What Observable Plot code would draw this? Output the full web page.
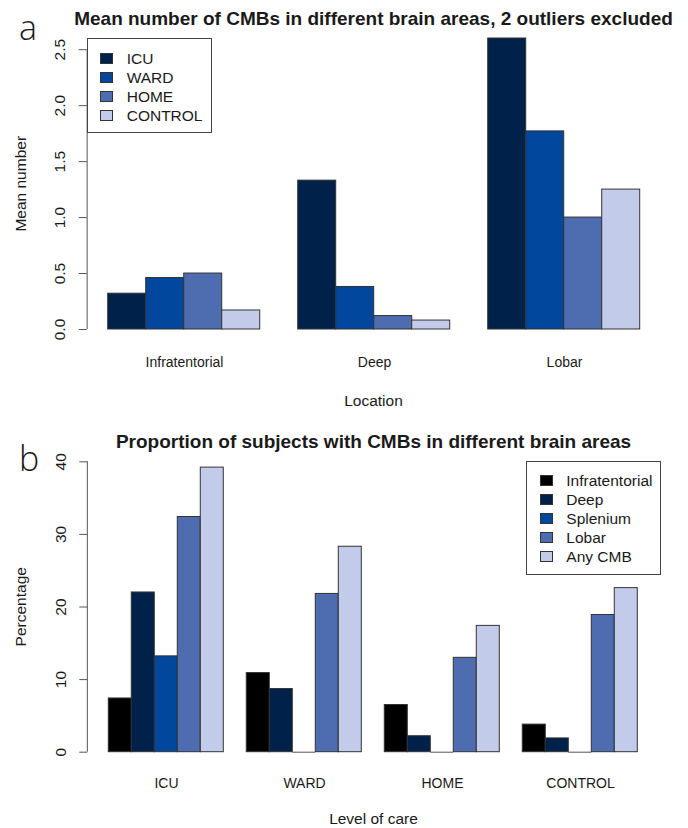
<!DOCTYPE html>
<html>
<head>
<meta charset="utf-8">
<script src="https://cdn.jsdelivr.net/npm/d3@7"></script>
<script src="https://cdn.jsdelivr.net/npm/@observablehq/plot@0.6"></script>
<style>
  body { margin: 0; background: #fff; }
  #root { position: relative; width: 688px; height: 828px; overflow: hidden; background: #fff;
          font-family: "Liberation Sans", Arial, Helvetica, sans-serif; color: #1a1a1a; }
  #root svg { position: absolute; left: 0; }
  .t { position: absolute; white-space: nowrap; line-height: 1; }
  .legend { position: absolute; border: 1px solid #444; box-sizing: border-box; background: #fff; }
  .sw { position: absolute; border: 1px solid #333; box-sizing: border-box; }
</style>
</head>
<body>
<div id="root"></div>
<script>
// ---------- data (panel a) ----------
const locations = ["Infratentorial", "Deep", "Lobar"];
const careLevels = ["ICU", "WARD", "HOME", "CONTROL"];
const meanICU = [0.32, 1.33, 2.60];
const meanWARD = [0.46, 0.38, 1.77];
const meanHOME = [0.50, 0.12, 1.00];
const meanCONTROL = [0.17, 0.08, 1.25];
const careColors = ["#00214a", "#01479d", "#4e6cb0", "#c3cbea"];
const meanTicks = [0, 0.5, 1.0, 1.5, 2.0, 2.5];

// ---------- data (panel b) ----------
const areas = ["Infratentorial", "Deep", "Splenium", "Lobar", "Any CMB"];
const pctICU = [7.4, 22.0, 13.2, 32.4, 39.2];
const pctWARD = [10.9, 8.7, 0, 21.8, 28.3];
const pctHOME = [6.5, 2.2, 0, 13.0, 17.4];
const pctCONTROL = [3.8, 1.9, 0, 18.9, 22.6];
const areaColors = ["#000000", "#00214a", "#01479d", "#4e6cb0", "#c3cbea"];
const pctTicks = [0, 10, 20, 30, 40];

// ---------- tidy tables ----------
const meanSeries = [meanICU, meanWARD, meanHOME, meanCONTROL];
const meanData = locations.flatMap((loc, i) =>
  careLevels.map((c, j) => ({group: loc, series: c, value: meanSeries[j][i]})));
const pctSeries = [pctICU, pctWARD, pctHOME, pctCONTROL];
const pctData = careLevels.flatMap((c, i) =>
  areas.map((a, j) => ({group: c, series: a, value: pctSeries[i][j]})));

// ---------- layout ----------
const W = 688, plotLeft = 86, plotRight = 661;
const FONT = "'Liberation Sans', Arial, Helvetica, sans-serif";
function barLayout(nGroups, nSeries) {
  // R-style barplot: one bar-width gap between groups, x range extended by 4%
  const units = nGroups * (nSeries + 1) - 1;
  const w = (plotRight - plotLeft) / (units * 1.08);
  const firstBar = plotLeft + 0.04 * units * w;
  const marginLeft = firstBar - 0.5 * w;
  const facetW = (nSeries + 1) * w;
  const marginRight = W - marginLeft - nGroups * facetW;
  return {marginLeft, marginRight, facetW, axisDx: plotLeft - marginLeft};
}

function groupedBars({data, groups, series, colors, yDomain, yTicks, yFormat, height, frameTop, frameBottom, tickPad}) {
  const L = barLayout(groups.length, series.length);
  return Plot.plot({
    width: W, height,
    marginTop: frameTop, marginBottom: height - frameBottom,
    marginLeft: L.marginLeft, marginRight: L.marginRight,
    style: {fontFamily: FONT, fontSize: "14px", color: "#1a1a1a", background: "transparent", overflow: "visible"},
    fx: {domain: groups, padding: 0, axis: null},
    x: {domain: series, paddingInner: 0, paddingOuter: 0.5, axis: null},
    y: {domain: yDomain, axis: null},
    color: {domain: series, range: colors},
    marks: [
      Plot.barY(data, {fx: "group", x: "series", y: "value", fill: "series", stroke: "#333", strokeWidth: 1}),
      Plot.tickY(data.filter(d => d.value === 0), {fx: "group", x: "series", y: "value", stroke: "#555", strokeWidth: 1}),
      Plot.ruleX([groups[0]], {fx: d => d, x: null, y1: yTicks[0], y2: yTicks[yTicks.length - 1],
        dx: L.axisDx - L.facetW / 2, stroke: "#555", strokeWidth: 1}),
      Plot.axisY({ticks: yTicks, tickFormat: yFormat, tickSize: 8, tickPadding: 14, tickRotate: -90,
        dx: L.axisDx, fontSize: 15.5, stroke: "#555", fill: "#1a1a1a", label: null}),
      Plot.axisFx({anchor: "bottom", tickSize: 0, tickPadding: tickPad, fontSize: 14, fill: "#1a1a1a", label: null})
    ]
  });
}

const root = document.getElementById("root");

const svgA = groupedBars({data: meanData, groups: locations, series: careLevels, colors: careColors,
  yDomain: [0, 2.6], yTicks: meanTicks, yFormat: d3.format(".1f"),
  height: 410, frameTop: 38, frameBottom: 329, tickPad: 28});
svgA.style.top = "0px";
root.appendChild(svgA);

const svgB = groupedBars({data: pctData, groups: careLevels, series: areas, colors: areaColors,
  yDomain: [0, 40], yTicks: pctTicks, yFormat: d3.format("d"),
  height: 418, frameTop: 51.3, frameBottom: 341.7, tickPad: 25.4});
svgB.style.top = "410px";
root.appendChild(svgB);

// ---------- text helpers ----------
const ASC = 0.8465; // baseline position inside a line-height:1 box (Liberation Sans)
function text(str, {x, baseline, size, weight = 400, align = "left", family = FONT}) {
  const d = document.createElement("div");
  d.className = "t";
  d.textContent = str;
  d.style.fontSize = size + "px";
  d.style.fontWeight = weight;
  d.style.fontFamily = family;
  d.style.top = (baseline - ASC * size) + "px";
  if (align === "center") {
    d.style.left = (x - 500) + "px"; d.style.width = "1000px"; d.style.textAlign = "center";
  } else {
    d.style.left = x + "px";
  }
  root.appendChild(d);
}
function vtext(str, {baselineX, cy, size}) {
  const d = document.createElement("div");
  d.className = "t";
  d.textContent = str;
  d.style.fontSize = size + "px";
  d.style.width = "400px";
  d.style.textAlign = "center";
  const cx = baselineX - (ASC - 0.5) * size;
  d.style.left = (cx - 200) + "px";
  d.style.top = (cy - size / 2) + "px";
  d.style.transform = "rotate(-90deg)";
  root.appendChild(d);
}
function legend(labels, colors, {left, top, width, height, swX, swW, swH, textX, rowY0, rowStep, size}) {
  const box = document.createElement("div");
  box.className = "legend";
  Object.assign(box.style, {left: left + "px", top: top + "px", width: width + "px", height: height + "px"});
  root.appendChild(box);
  labels.forEach((lab, i) => {
    const cy = rowY0 + i * rowStep;
    const s = document.createElement("div");
    s.className = "sw";
    Object.assign(s.style, {left: swX + "px", top: (cy - swH / 2) + "px", width: swW + "px", height: swH + "px", background: colors[i]});
    root.appendChild(s);
    text(lab, {x: textX, baseline: cy + 0.358 * size, size});
  });
}

const cx = (plotLeft + plotRight) / 2;

// panel a
text("a", {x: 19, baseline: 38.3, size: 34, weight: 300, family: "'Open Sans', Lato, 'DejaVu Sans', sans-serif"});
text("Mean number of CMBs in different brain areas, 2 outliers excluded", {x: cx, baseline: 25, size: 19, weight: 700, align: "center"});
vtext("Mean number", {baselineX: 26.7, cy: 183.5, size: 15.5});
text("Location", {x: cx, baseline: 406, size: 15.5, align: "center"});
legend(careLevels, careColors, {left: 86.5, top: 38.3, width: 125, height: 95,
  swX: 100, swW: 12.5, swH: 11.5, textX: 126.7, rowY0: 58.3, rowStep: 19.1, size: 15.5});

// panel b
text("b", {x: 19, baseline: 470, size: 34, weight: 300, family: "'Open Sans', Lato, 'DejaVu Sans', sans-serif"});
text("Proportion of subjects with CMBs in different brain areas", {x: cx, baseline: 447.7, size: 19, weight: 700, align: "center"});
vtext("Percentage", {baselineX: 26.7, cy: 606.5, size: 15.5});
text("Level of care", {x: cx, baseline: 824, size: 15.5, align: "center"});
legend(areas, areaColors, {left: 525.7, top: 461, width: 135, height: 114,
  swX: 540, swW: 12.5, swH: 11.5, textX: 566.3, rowY0: 480.7, rowStep: 19, size: 15.5});
</script>
</body>
</html>
